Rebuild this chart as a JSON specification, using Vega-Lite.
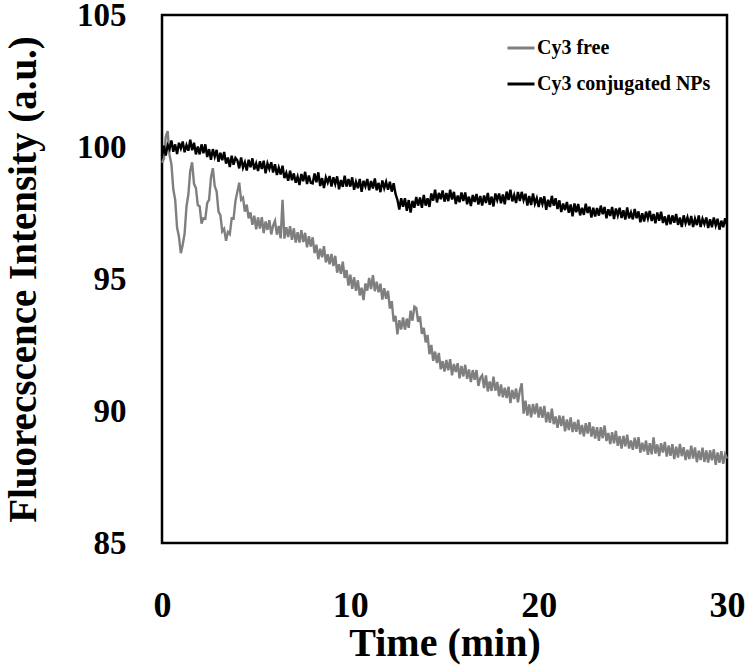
{
  "$schema": "https://vega.github.io/schema/vega-lite/v6.json",
  "width": 565,
  "height": 528,
  "autosize": {"type": "none"},
  "padding": {"left": 162, "top": 15, "right": 19, "bottom": 122},
  "background": "white",
  "config": {
    "view": {"stroke": "black", "strokeWidth": 2.5},
    "font": "Liberation Serif"
  },
  "data": {
    "values": [
      {"t":0.0,"f":99.4,"c":99.65},{"t":0.1,"f":99.55,"c":100.05},{"t":0.2,"f":100.4,"c":99.68},{"t":0.3,"f":100.6,"c":100.07},{"t":0.4,"f":99.7,"c":99.92},{"t":0.5,"f":99.35,"c":100.25},{"t":0.6,"f":98.4,"c":99.82},{"t":0.7,"f":98.0,"c":100.1},{"t":0.8,"f":96.95,"c":99.73},{"t":0.9,"f":96.6,"c":100.16},
      {"t":1.0,"f":95.98,"c":99.95},{"t":1.1,"f":96.3,"c":100.21},{"t":1.2,"f":96.72,"c":99.8},{"t":1.3,"f":97.75,"c":100.07},{"t":1.4,"f":98.2,"c":99.86},{"t":1.5,"f":99.1,"c":100.28},{"t":1.6,"f":99.42,"c":99.88},{"t":1.7,"f":98.6,"c":100.16},{"t":1.8,"f":98.45,"c":99.72},{"t":1.9,"f":97.8,"c":100.02},
      {"t":2.0,"f":97.75,"c":99.72},{"t":2.1,"f":97.1,"c":100.1},{"t":2.2,"f":97.3,"c":99.76},{"t":2.3,"f":97.28,"c":100.1},{"t":2.4,"f":97.88,"c":99.62},{"t":2.5,"f":98.0,"c":99.92},{"t":2.6,"f":98.85,"c":99.52},{"t":2.7,"f":99.2,"c":99.92},{"t":2.8,"f":98.52,"c":99.63},{"t":2.9,"f":98.32,"c":99.89},
      {"t":3.0,"f":97.55,"c":99.44},{"t":3.1,"f":97.42,"c":99.78},{"t":3.2,"f":96.8,"c":99.5},{"t":3.3,"f":96.9,"c":99.81},{"t":3.4,"f":96.45,"c":99.37},{"t":3.5,"f":96.78,"c":99.6},{"t":3.6,"f":96.7,"c":99.24},{"t":3.7,"f":97.3,"c":99.67},{"t":3.8,"f":97.28,"c":99.33},{"t":3.9,"f":97.95,"c":99.59},
      {"t":4.0,"f":98.3,"c":99.5},{"t":4.1,"f":98.65,"c":99.19},{"t":4.2,"f":98.0,"c":99.6},{"t":4.3,"f":98.08,"c":99.22},{"t":4.4,"f":97.55,"c":99.42},{"t":4.5,"f":97.82,"c":99.11},{"t":4.6,"f":97.3,"c":99.52},{"t":4.7,"f":97.52,"c":99.23},{"t":4.8,"f":97.05,"c":99.57},{"t":4.9,"f":97.4,"c":99.15},
      {"t":5.0,"f":96.88,"c":99.38},{"t":5.1,"f":97.33,"c":99.09},{"t":5.2,"f":96.91,"c":99.46},{"t":5.3,"f":97.34,"c":99.17},{"t":5.4,"f":96.74,"c":99.48},{"t":5.5,"f":97.18,"c":99.0},{"t":5.6,"f":96.86,"c":99.38},{"t":5.7,"f":97.23,"c":99.17},{"t":5.8,"f":96.69,"c":99.42},{"t":5.9,"f":97.02,"c":99.03},
      {"t":6.0,"f":97.2,"c":99.35},{"t":6.1,"f":96.68,"c":98.94},{"t":6.2,"f":97.01,"c":99.22},{"t":6.3,"f":96.54,"c":98.96},{"t":6.4,"f":98.0,"c":99.29},{"t":6.5,"f":96.53,"c":98.82},{"t":6.6,"f":96.96,"c":99.02},{"t":6.7,"f":96.59,"c":98.72},{"t":6.8,"f":97.0,"c":99.1},{"t":6.9,"f":96.48,"c":98.74},
      {"t":7.0,"f":96.92,"c":99.0},{"t":7.1,"f":96.38,"c":98.65},{"t":7.2,"f":96.77,"c":98.88},{"t":7.3,"f":96.38,"c":98.56},{"t":7.4,"f":96.85,"c":98.98},{"t":7.5,"f":96.4,"c":98.7},{"t":7.6,"f":96.75,"c":99.06},{"t":7.7,"f":96.2,"c":98.6},{"t":7.8,"f":96.62,"c":98.92},{"t":7.9,"f":96.23,"c":98.64},
      {"t":8.0,"f":96.58,"c":98.62},{"t":8.1,"f":95.98,"c":99.0},{"t":8.2,"f":96.3,"c":98.66},{"t":8.3,"f":95.75,"c":99.04},{"t":8.4,"f":96.15,"c":98.52},{"t":8.5,"f":95.82,"c":98.82},{"t":8.6,"f":96.24,"c":98.45},{"t":8.7,"f":95.63,"c":98.85},{"t":8.8,"f":95.94,"c":98.65},{"t":8.9,"f":95.56,"c":98.9},
      {"t":9.0,"f":95.95,"c":98.5},{"t":9.1,"f":95.49,"c":98.85},{"t":9.2,"f":95.88,"c":98.6},{"t":9.3,"f":95.24,"c":98.89},{"t":9.4,"f":95.56,"c":98.4},{"t":9.5,"f":95.2,"c":98.75},{"t":9.6,"f":95.66,"c":98.49},{"t":9.7,"f":95.04,"c":98.91},{"t":9.8,"f":95.34,"c":98.5},{"t":9.9,"f":94.75,"c":98.79},
      {"t":10.0,"f":95.16,"c":98.5},{"t":10.1,"f":94.63,"c":98.85},{"t":10.2,"f":95.07,"c":98.38},{"t":10.3,"f":94.55,"c":98.68},{"t":10.4,"f":94.95,"c":98.44},{"t":10.5,"f":94.38,"c":98.79},{"t":10.6,"f":94.67,"c":98.3},{"t":10.7,"f":94.2,"c":98.72},{"t":10.8,"f":94.83,"c":98.51},{"t":10.9,"f":94.56,"c":98.79},
      {"t":11.0,"f":95.04,"c":98.36},{"t":11.1,"f":94.62,"c":98.71},{"t":11.2,"f":95.15,"c":98.43},{"t":11.3,"f":94.54,"c":98.81},{"t":11.4,"f":94.9,"c":98.36},{"t":11.5,"f":94.5,"c":98.64},{"t":11.6,"f":94.82,"c":98.29},{"t":11.7,"f":94.22,"c":98.73},{"t":11.8,"f":94.65,"c":98.44},{"t":11.9,"f":94.25,"c":98.68},
      {"t":12.0,"f":94.55,"c":98.38},{"t":12.1,"f":93.88,"c":98.68},{"t":12.2,"f":94.16,"c":98.31},{"t":12.3,"f":93.39,"c":98.63},{"t":12.4,"f":93.6,"c":98.22},{"t":12.5,"f":92.9,"c":98.0},{"t":12.6,"f":93.44,"c":97.63},{"t":12.7,"f":93.09,"c":98.06},{"t":12.8,"f":93.54,"c":97.74},{"t":12.9,"f":93.08,"c":98.06},
      {"t":13.0,"f":93.5,"c":97.58},{"t":13.1,"f":93.15,"c":97.99},{"t":13.2,"f":93.8,"c":97.52},{"t":13.3,"f":93.42,"c":97.96},{"t":13.4,"f":93.95,"c":97.7},{"t":13.5,"f":93.9,"c":98.11},{"t":13.6,"f":93.38,"c":97.78},{"t":13.7,"f":93.58,"c":98.09},{"t":13.8,"f":92.92,"c":97.7},{"t":13.9,"f":93.15,"c":98.18},
      {"t":14.0,"f":92.6,"c":97.78},{"t":14.1,"f":92.88,"c":98.06},{"t":14.2,"f":92.15,"c":97.73},{"t":14.3,"f":92.5,"c":98.24},{"t":14.4,"f":91.9,"c":97.97},{"t":14.5,"f":92.25,"c":98.38},{"t":14.6,"f":91.82,"c":97.9},{"t":14.7,"f":92.2,"c":98.26},{"t":14.8,"f":91.58,"c":98.02},{"t":14.9,"f":91.89,"c":98.35},
      {"t":15.0,"f":91.49,"c":97.93},{"t":15.1,"f":91.93,"c":98.26},{"t":15.2,"f":91.54,"c":97.95},{"t":15.3,"f":91.96,"c":98.38},{"t":15.4,"f":91.35,"c":98.01},{"t":15.5,"f":91.78,"c":98.3},{"t":15.6,"f":91.48,"c":97.84},{"t":15.7,"f":91.81,"c":98.16},{"t":15.8,"f":91.24,"c":97.91},{"t":15.9,"f":91.71,"c":98.28},
      {"t":16.0,"f":91.31,"c":97.95},{"t":16.1,"f":91.75,"c":98.28},{"t":16.2,"f":91.22,"c":97.83},{"t":16.3,"f":91.57,"c":98.12},{"t":16.4,"f":91.1,"c":97.76},{"t":16.5,"f":91.55,"c":98.18},{"t":16.6,"f":91.18,"c":97.92},{"t":16.7,"f":91.55,"c":98.22},{"t":16.8,"f":90.95,"c":97.82},{"t":16.9,"f":91.25,"c":98.14},
      {"t":17.0,"f":91.35,"c":97.78},{"t":17.1,"f":90.87,"c":98.16},{"t":17.2,"f":91.35,"c":97.88},{"t":17.3,"f":90.74,"c":98.26},{"t":17.4,"f":91.12,"c":97.81},{"t":17.5,"f":90.76,"c":98.12},{"t":17.6,"f":91.3,"c":97.75},{"t":17.7,"f":90.77,"c":98.24},{"t":17.8,"f":91.1,"c":97.99},{"t":17.9,"f":90.56,"c":98.24},
      {"t":18.0,"f":91.01,"c":97.87},{"t":18.1,"f":90.52,"c":98.2},{"t":18.2,"f":90.88,"c":97.83},{"t":18.3,"f":90.49,"c":98.31},{"t":18.4,"f":90.92,"c":97.99},{"t":18.5,"f":90.3,"c":98.38},{"t":18.6,"f":90.8,"c":97.94},{"t":18.7,"f":90.45,"c":98.18},{"t":18.8,"f":90.85,"c":97.88},{"t":18.9,"f":90.33,"c":98.3},
      {"t":19.0,"f":90.77,"c":97.95},{"t":19.1,"f":91.05,"c":98.3},{"t":19.2,"f":89.9,"c":97.99},{"t":19.3,"f":90.39,"c":98.23},{"t":19.4,"f":89.83,"c":97.78},{"t":19.5,"f":90.25,"c":98.14},{"t":19.6,"f":89.76,"c":97.8},{"t":19.7,"f":90.27,"c":98.24},{"t":19.8,"f":89.88,"c":97.85},{"t":19.9,"f":90.29,"c":98.06},
      {"t":20.0,"f":89.75,"c":97.73},{"t":20.1,"f":90.16,"c":98.09},{"t":20.2,"f":89.74,"c":97.84},{"t":20.3,"f":90.19,"c":98.13},{"t":20.4,"f":89.57,"c":97.62},{"t":20.5,"f":89.96,"c":98.0},{"t":20.6,"f":89.55,"c":97.73},{"t":20.7,"f":90.09,"c":98.15},{"t":20.8,"f":89.5,"c":97.78},{"t":20.9,"f":89.79,"c":98.06},
      {"t":21.0,"f":89.36,"c":97.65},{"t":21.1,"f":89.83,"c":97.98},{"t":21.2,"f":89.43,"c":97.54},{"t":21.3,"f":89.81,"c":97.86},{"t":21.4,"f":89.23,"c":97.61},{"t":21.5,"f":89.68,"c":97.92},{"t":21.6,"f":89.28,"c":97.51},{"t":21.7,"f":89.76,"c":97.82},{"t":21.8,"f":89.2,"c":97.37},{"t":21.9,"f":89.58,"c":97.86},
      {"t":22.0,"f":89.21,"c":97.53},{"t":22.1,"f":89.67,"c":97.84},{"t":22.2,"f":89.12,"c":97.41},{"t":22.3,"f":89.47,"c":97.7},{"t":22.4,"f":89.04,"c":97.43},{"t":22.5,"f":89.54,"c":97.85},{"t":22.6,"f":89.15,"c":97.5},{"t":22.7,"f":89.58,"c":97.74},{"t":22.8,"f":89.03,"c":97.33},{"t":22.9,"f":89.41,"c":97.7},
      {"t":23.0,"f":88.96,"c":97.37},{"t":23.1,"f":89.39,"c":97.69},{"t":23.2,"f":88.87,"c":97.4},{"t":23.3,"f":89.39,"c":97.78},{"t":23.4,"f":88.97,"c":97.45},{"t":23.5,"f":89.45,"c":97.73},{"t":23.6,"f":88.86,"c":97.3},{"t":23.7,"f":89.17,"c":97.64},{"t":23.8,"f":88.75,"c":97.39},{"t":23.9,"f":89.2,"c":97.73},
      {"t":24.0,"f":88.78,"c":97.27},{"t":24.1,"f":89.25,"c":97.67},{"t":24.2,"f":88.68,"c":97.41},{"t":24.3,"f":89.05,"c":97.7},{"t":24.4,"f":88.58,"c":97.31},{"t":24.5,"f":89.06,"c":97.6},{"t":24.6,"f":88.66,"c":97.25},{"t":24.7,"f":89.1,"c":97.71},{"t":24.8,"f":88.58,"c":97.3},{"t":24.9,"f":88.88,"c":97.52},
      {"t":25.0,"f":88.53,"c":97.26},{"t":25.1,"f":88.99,"c":97.65},{"t":25.2,"f":88.57,"c":97.3},{"t":25.3,"f":89.01,"c":97.56},{"t":25.4,"f":88.42,"c":97.15},{"t":25.5,"f":88.8,"c":97.49},{"t":25.6,"f":88.47,"c":97.18},{"t":25.7,"f":88.88,"c":97.55},{"t":25.8,"f":88.34,"c":97.29},{"t":25.9,"f":88.78,"c":97.58},
      {"t":26.0,"f":88.36,"c":97.2},{"t":26.1,"f":89.0,"c":97.46},{"t":26.2,"f":88.39,"c":97.11},{"t":26.3,"f":88.73,"c":97.52},{"t":26.4,"f":88.29,"c":97.21},{"t":26.5,"f":88.78,"c":97.55},{"t":26.6,"f":88.43,"c":97.12},{"t":26.7,"f":88.83,"c":97.37},{"t":26.8,"f":88.27,"c":97.04},{"t":26.9,"f":88.69,"c":97.43},
      {"t":27.0,"f":88.3,"c":97.07},{"t":27.1,"f":88.74,"c":97.41},{"t":27.2,"f":88.18,"c":97.13},{"t":27.3,"f":88.65,"c":97.46},{"t":27.4,"f":88.24,"c":97.05},{"t":27.5,"f":88.75,"c":97.33},{"t":27.6,"f":88.29,"c":96.97},{"t":27.7,"f":88.63,"c":97.41},{"t":27.8,"f":88.14,"c":97.11},{"t":27.9,"f":88.53,"c":97.34},
      {"t":28.0,"f":88.18,"c":97.04},{"t":28.1,"f":88.69,"c":97.39},{"t":28.2,"f":88.2,"c":96.97},{"t":28.3,"f":88.62,"c":97.28},{"t":28.4,"f":88.06,"c":97.04},{"t":28.5,"f":88.5,"c":97.41},{"t":28.6,"f":88.14,"c":96.97},{"t":28.7,"f":88.61,"c":97.28},{"t":28.8,"f":88.07,"c":97.08},{"t":28.9,"f":88.51,"c":97.33},
      {"t":29.0,"f":88.05,"c":96.93},{"t":29.1,"f":88.51,"c":97.26},{"t":29.2,"f":88.13,"c":96.96},{"t":29.3,"f":88.55,"c":97.33},{"t":29.4,"f":87.96,"c":97.03},{"t":29.5,"f":88.43,"c":97.28},{"t":29.6,"f":88.04,"c":96.87},{"t":29.7,"f":88.48,"c":97.21},{"t":29.8,"f":88.0,"c":96.96},{"t":29.9,"f":88.36,"c":97.3},
      {"t":30.0,"f":88.2,"c":97.05}
    ]
  },
  "transform": [{"fold": ["f", "c"], "as": ["s", "v"]}],
  "mark": {"type": "line", "strokeWidth": 2.4, "interpolate": "linear", "strokeJoin": "miter"},
  "encoding": {
    "x": {
      "field": "t",
      "type": "quantitative",
      "scale": {"domain": [0, 30], "nice": false},
      "axis": {
        "title": "Time (min)",
        "values": [0, 10, 20, 30],
        "grid": false,
        "domain": false,
        "ticks": false,
        "tickSize": 0,
        "labelFont": "Liberation Serif",
        "labelFontWeight": "bold",
        "labelFontSize": 36,
        "labelColor": "black",
        "labelPadding": 45,
        "labelFlush": false,
        "titleFont": "Liberation Serif",
        "titleFontWeight": "bold",
        "titleFontSize": 40,
        "titleColor": "black",
        "titlePadding": 0
      }
    },
    "y": {
      "field": "v",
      "type": "quantitative",
      "scale": {"domain": [85, 105], "nice": false, "zero": false},
      "axis": {
        "title": "Fluorecscence Intensity (a.u.)",
        "values": [85, 90, 95, 100, 105],
        "grid": false,
        "domain": false,
        "ticks": false,
        "tickSize": 0,
        "labelFont": "Liberation Serif",
        "labelFontWeight": "bold",
        "labelFontSize": 33,
        "labelColor": "black",
        "labelPadding": 36,
        "labelFlush": false,
        "titleFont": "Liberation Serif",
        "titleFontWeight": "bold",
        "titleFontSize": 39,
        "titleColor": "black",
        "titleAngle": -90,
        "titleAlign": "center",
        "titleBaseline": "middle",
        "titleX": -139,
        "titleY": 264
      }
    },
    "color": {
      "field": "s",
      "type": "nominal",
      "scale": {"domain": ["f", "c"], "range": ["#7f7f7f", "#000000"]},
      "legend": {
        "title": null,
        "orient": "none",
        "legendX": 344,
        "legendY": 18,
        "padding": 0,
        "symbolType": "stroke",
        "symbolSize": 729,
        "symbolStrokeWidth": 3,
        "labelExpr": "datum.value == 'f' ? 'Cy3 free' : 'Cy3 conjugated NPs'",
        "labelLimit": 0,
        "labelFont": "Liberation Serif",
        "labelFontWeight": "bold",
        "labelFontSize": 20,
        "labelColor": "black",
        "labelOffset": 1,
        "rowPadding": 11
      }
    }
  }
}
